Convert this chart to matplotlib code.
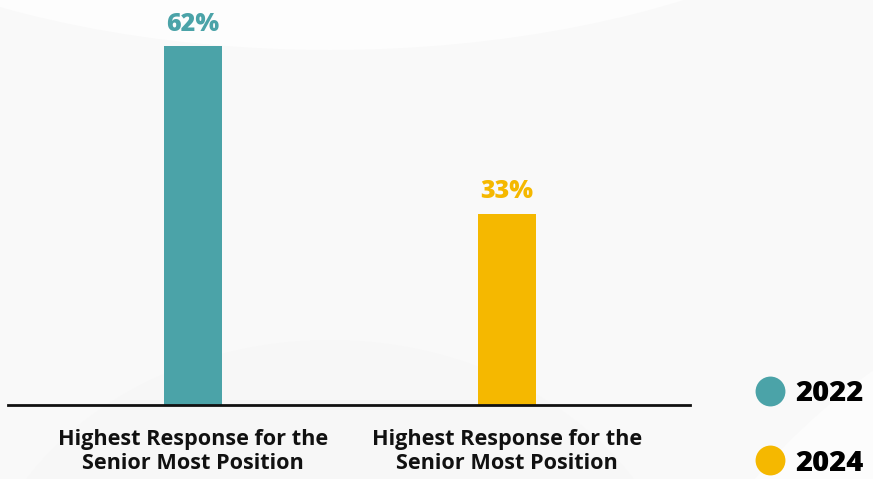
import matplotlib
matplotlib.use('Agg')
import matplotlib.pyplot as plt
import matplotlib.patches as mpatches
from matplotlib.lines import Line2D

categories = ["Highest Response for the\nSenior Most Position",
              "Highest Response for the\nSenior Most Position"]
years = ["2022", "2024"]
values = [62, 33]
colors = ["#4BA3A8", "#F5B800"]

W, H = 873, 479
DPI = 100
fig = plt.figure(figsize=(W / DPI, H / DPI), dpi=DPI)
fig.patch.set_facecolor("#f9f9f9")

# soft background swooshes
bg = fig.add_axes([0, 0, 1, 1], zorder=0)
bg.set_xlim(0, W)
bg.set_ylim(H, 0)
bg.axis('off')
bg.add_patch(mpatches.Ellipse((330, -260), 1300, 620, color="#fdfdfd", lw=0))
bg.add_patch(mpatches.Ellipse((1250, 900), 1300, 1300, color="#fcfcfc", lw=0))
bg.add_patch(mpatches.Ellipse((330, 640), 720, 600, color="#f7f7f7", lw=0))

# bar axes: baseline at y=405px, x range 8..690px
x0, x1 = 8 / W, 690 / W
y0 = (H - 405) / H
ax = fig.add_axes([x0, y0, x1 - x0, 1 - y0], zorder=1)
ax.patch.set_alpha(0)
xs = [0, 1]
ax.bar(xs, values, width=0.185, color=colors, zorder=2)
ax.set_xlim(-0.589, 1.583)
ax.set_ylim(0, 70)

for x, v, c in zip(xs, values, colors):
    ax.annotate(f"{v}%", (x, v), xytext=(0, 7), textcoords='offset points',
                ha='center', va='bottom', fontsize=18, fontweight='heavy',
                color=c, family='Open Sans')

for s in ['top', 'right', 'left']:
    ax.spines[s].set_visible(False)
ax.spines['bottom'].set_linewidth(2)
ax.spines['bottom'].set_color('#111111')
ax.set_yticks([])
ax.set_xticks(xs)
ax.set_xticklabels(categories, fontsize=15.6, fontweight='bold',
                   family='Open Sans', color='#111111', linespacing=1.2)
ax.tick_params(axis='x', length=0, pad=17)

# legend on the right
handles = [Line2D([], [], marker='o', color='none', markerfacecolor=c,
                  markeredgecolor='none', markersize=21.5, label=y)
           for c, y in zip(colors, years)]
leg = fig.legend(handles=handles, loc='lower right', bbox_to_anchor=(1.02, -0.052),
                 frameon=False, handletextpad=-0.1, labelspacing=1.4,
                 prop={'family': 'Open Sans', 'weight': 'heavy', 'size': 21})

plt.savefig("out.png", dpi=DPI, facecolor=fig.get_facecolor())
